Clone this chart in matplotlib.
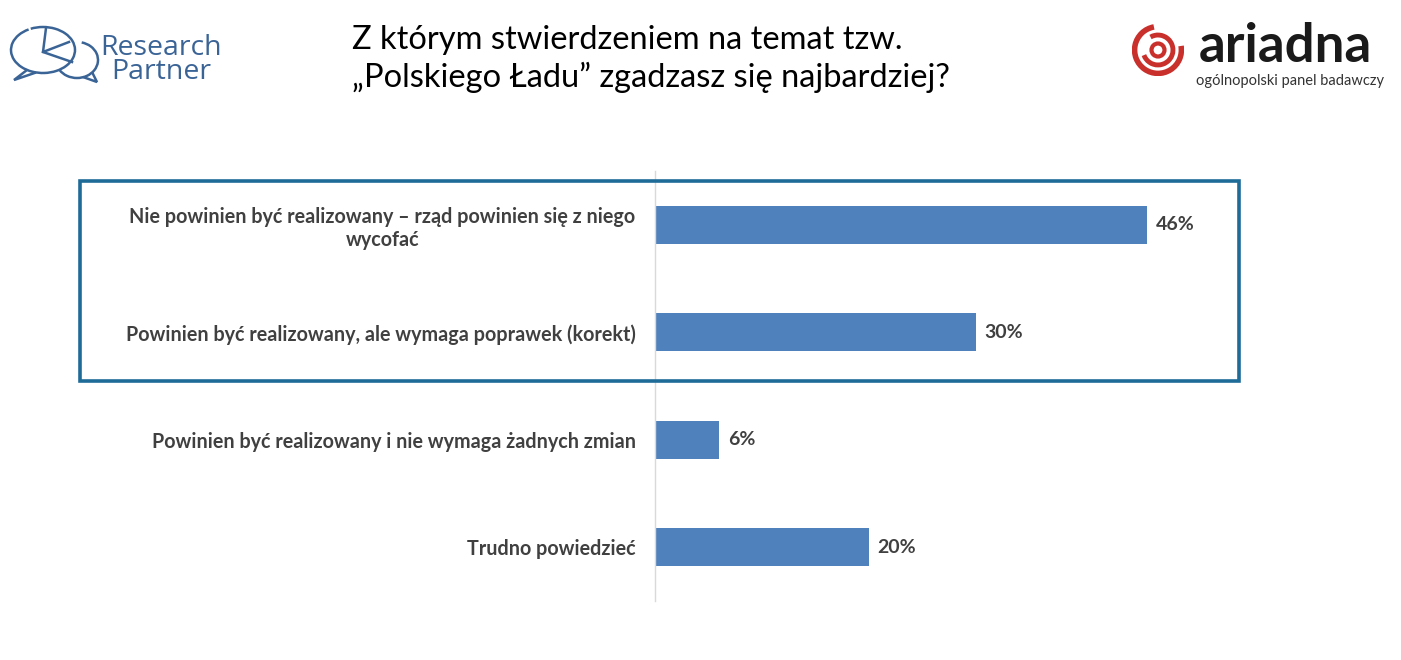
import matplotlib.pyplot as plt
from matplotlib.patches import Rectangle, Ellipse, Arc, Polygon
import numpy as np

categories = [
    "Nie powinien być realizowany – rząd powinien się z niego\nwycofać",
    "Powinien być realizowany, ale wymaga poprawek (korekt)",
    "Powinien być realizowany i nie wymaga żadnych zmian",
    "Trudno powiedzieć",
]
values = [46, 30, 6, 20]
value_labels = ["46%", "30%", "6%", "20%"]

title = "Z którym stwierdzeniem na temat tzw.\n„Polskiego Ładu” zgadzasz się najbardziej?"

W, H = 1401, 660
bar_color = "#4f81bd"
text_color = "#404040"

plt.rcParams['font.family'] = ['Lato', 'DejaVu Sans']

fig = plt.figure(figsize=(W / 100, H / 100), dpi=100)


def fx(x):
    return x / W


def fy(y):
    return 1 - y / H


ax = fig.add_axes([fx(655), fy(601), fx(1190 - 655), (601 - 171) / H])
y = np.arange(len(categories))
ax.barh(y, values, height=0.355, color=bar_color)
ax.set_xlim(0, 50)
ax.set_ylim(3.5, -0.5)
for s in ["top", "right", "bottom"]:
    ax.spines[s].set_visible(False)
ax.spines["left"].set_color("#d9d9d9")
ax.spines["left"].set_linewidth(1)
ax.set_xticks([])
ax.set_yticks(y)
ax.set_yticklabels(categories, fontsize=14.2, fontweight="bold",
                   color=text_color, multialignment="center")
ax.tick_params(axis="y", length=0, pad=14)
for yi, v, lab in zip(y, values, value_labels):
    ax.text(v + 0.8, yi, lab, va="center", ha="left", fontsize=14,
            fontweight="bold", color=text_color)

# highlight box around first two answers
fig.patches.append(Rectangle((fx(80), fy(381)), fx(1239 - 80), (381 - 181) / H,
                             transform=fig.transFigure, fill=False,
                             edgecolor="#1f6b98", linewidth=2.6))

fig.text(fx(352), fy(59), title, fontsize=23.5, color="black",
         ha="left", va="center", linespacing=1.25)

# Research Partner logo (pixel coordinates)
lc = "#3b6496"
lax = fig.add_axes([fx(5), fy(92), fx(95), 72 / H])
lax.set_xlim(5, 100)
lax.set_ylim(92, 20)
lax.axis("off")
lax.add_patch(Arc((43, 50), 64, 46, theta1=-120, theta2=235, edgecolor=lc, lw=1.8))
lax.add_patch(Polygon([[27, 70], [14, 80], [36, 72.5]], closed=False, fill=False,
                      edgecolor=lc, lw=1.8))
lax.add_patch(Arc((77, 60), 42, 36, theta1=-75, theta2=150, edgecolor=lc, lw=1.8))
lax.add_patch(Polygon([[83, 77], [97, 82], [92, 72]], closed=False, fill=False,
                      edgecolor=lc, lw=1.8))
lax.plot([46, 43, 69], [28, 52, 42], color=lc, lw=1.8)
lax.plot([43, 72], [52, 62], color=lc, lw=1.8)
fig.text(fx(161), fy(60), "Research\nPartner", fontsize=20.5, color=lc,
         ha="center", va="center", linespacing=0.85, family=["Open Sans", "DejaVu Sans"])

# Ariadna logo
red = "#c9302c"
rax = fig.add_axes([fx(1132), fy(78), fx(52), 56 / H])
rax.set_xlim(-1, 1)
rax.set_ylim(-1, 1)
rax.set_aspect("equal")
rax.axis("off")
rax.add_patch(Arc((0, 0), 1.8, 1.8, theta1=100, theta2=10, edgecolor=red, lw=4))
rax.add_patch(Arc((0, 0), 1.15, 1.15, theta1=200, theta2=120, edgecolor=red, lw=3.5))
rax.add_patch(Ellipse((0, 0), 0.5, 0.5, fill=False, edgecolor=red, lw=3))
fig.text(fx(1285), fy(46), "ariadna", fontsize=38, fontweight="bold", color="#1a1a1a",
         ha="center", va="center")
fig.text(fx(1290), fy(81), "ogólnopolski panel badawczy", fontsize=10.5,
         color="#333333", ha="center", va="center")

fig.savefig("out.png", dpi=100)
